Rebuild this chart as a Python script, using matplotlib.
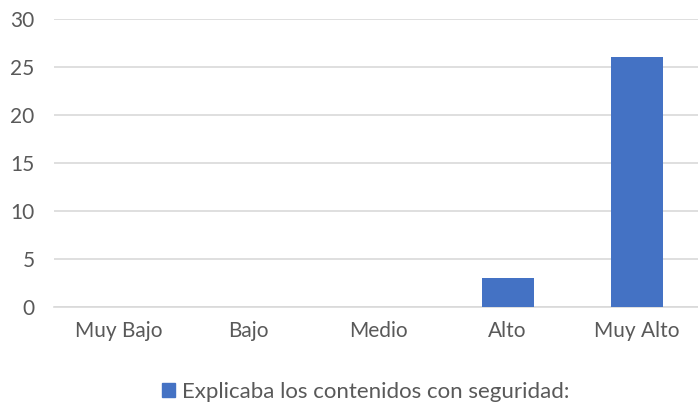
import matplotlib
matplotlib.use("Agg")
import matplotlib.pyplot as plt
from matplotlib.patches import Patch

categories = ["Muy Bajo", "Bajo", "Medio", "Alto", "Muy Alto"]
values = [0, 0, 0, 3, 26]
series_name = "Explicaba los contenidos con seguridad:"
yticks = [0, 5, 10, 15, 20, 25, 30]

plt.rcParams['font.family'] = ['Lato', 'DejaVu Sans']
W, H = 698, 407
fig = plt.figure(figsize=(W/100, H/100), dpi=100)
ax = fig.add_axes([54/W, (H-307)/H, (702-54)/W, (307-19)/H])

x = list(range(len(categories)))
ax.bar(x, values, width=0.4, color="#4472C4", zorder=3)
ax.set_xlim(-0.5, len(categories)-0.5)
ax.set_ylim(0, 30)
ax.set_yticks(yticks)
ax.set_xticks(x)
ax.set_xticklabels(categories)
ax.grid(axis='y', color="#D9D9D9", linewidth=1.2, zorder=0)
for s in ["top", "right", "left"]:
    ax.spines[s].set_visible(False)
ax.spines["bottom"].set_color("#D9D9D9")
ax.spines["bottom"].set_linewidth(1.2)
ax.tick_params(axis='both', length=0, labelsize=15, colors="#595959")
ax.tick_params(axis='x', pad=10)
ax.tick_params(axis='y', pad=14)

fig.legend(handles=[Patch(color="#4472C4", label=series_name)],
           loc="center", bbox_to_anchor=(366/W, 1-392/H), frameon=False,
           fontsize=16, labelcolor="#595959", handlelength=0.55, handleheight=0.55,
           handletextpad=0.35)

fig.savefig("out.png", dpi=100)
